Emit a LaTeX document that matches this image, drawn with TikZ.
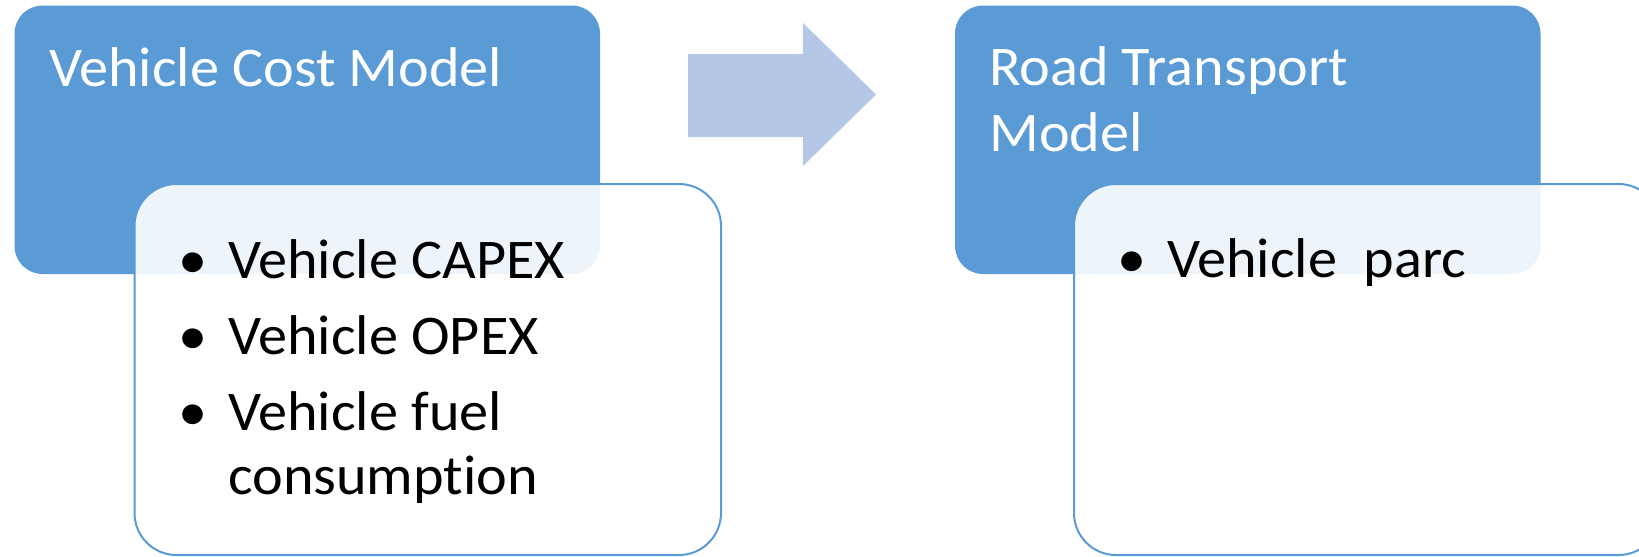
\documentclass[tikz,border=0pt]{standalone}
\usepackage{fontspec}
\setmainfont{Carlito}[FakeStretch=1.04, Ligatures={NoCommon}]
\definecolor{accent}{HTML}{5B9BD5}
\definecolor{arrowblue}{HTML}{B4C7E7}
\begin{document}
\begin{tikzpicture}[x=1pt,y=-1pt,
  bluebox/.style={fill=accent, rounded corners=28pt, inner sep=0pt, outer sep=0pt,
    minimum width=585.5pt, minimum height=268.5pt, anchor=north west},
  whitebox/.style={draw=accent, line width=2pt, fill=white, fill opacity=0.9,
    rounded corners=42pt, inner sep=0pt, outer sep=0pt,
    minimum width=586.5pt, minimum height=371pt, anchor=north west},
  title/.style={text=white, font=\fontsize{56}{66}\selectfont, align=left,
    anchor=base west, inner sep=0pt},
  item/.style={text=black, font=\fontsize{56}{64.6}\selectfont, align=left,
    anchor=base west, inner sep=0pt},
  bul/.style={text=black, font=\fontsize{56}{64.6}\selectfont, anchor=base, inner sep=0pt}]
\useasboundingbox (0,0) rectangle (1639,557);
\begin{scope}
\clip (0,0) rectangle (1639,557);
% left group
\node[bluebox] (costbox) at (14.5,5.5) {};
\node[whitebox] (costlist) at (134.5,184) {};
\node[title] (costtitle) at (49,86) {Vehicle Cost Model};
\node[bul] (b1) at (193.5,278) {•};
\node[item] (i1) at (228,278) {Vehicle CAPEX};
\node[bul] (b2) at (193.5,354.5) {•};
\node[item] (i2) at (228,354.5) {Vehicle OPEX};
\node[bul] (b3) at (193.5,430) {•};
% base anchor of a two-line node is the baseline of its last line
\node[item] (i3) at (228,494.6) {Vehicle fuel\\consumption};
% arrow
\fill[arrowblue] (688,54) -- (803,54) -- (803,23) -- (876,94.5) -- (803,166)
  -- (803,137) -- (688,137) -- cycle;
% right group
\node[bluebox] (roadbox) at (955,5.5) {};
\node[whitebox] (roadlist) at (1074,184) {};
\node[title] (roadtitle) at (989,151) {Road Transport\\Model};
\node[bul] (b4) at (1132,277) {•};
\node[item] (i4) at (1167,277) {Vehicle\ \ parc};
\end{scope}
\end{tikzpicture}
\end{document}
